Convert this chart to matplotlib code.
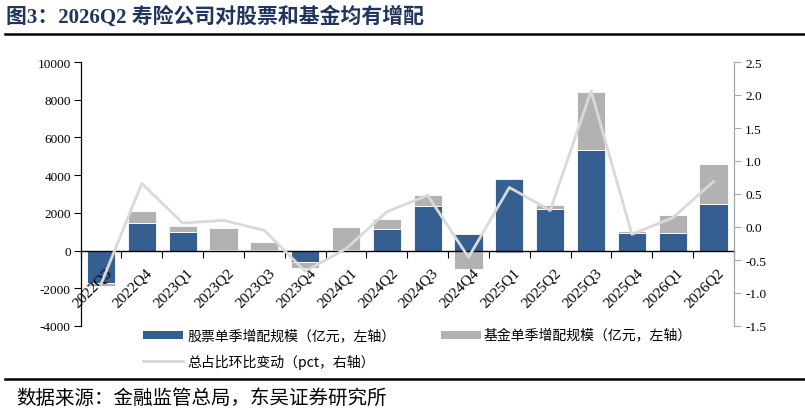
import matplotlib
matplotlib.use("Agg")
import matplotlib.pyplot as plt
import numpy as np
from matplotlib.lines import Line2D
from matplotlib.patches import Rectangle
from matplotlib.transforms import ScaledTranslation

quarters = ["2022Q3", "2022Q4", "2023Q1", "2023Q2", "2023Q3", "2023Q4", "2024Q1", "2024Q2",
            "2024Q3", "2024Q4", "2025Q1", "2025Q2", "2025Q3", "2025Q4", "2026Q1", "2026Q2"]
stock = [-1700, 1470, 990, 50, 50, -600, 30, 1150, 2390, 880, 3820, 2210, 5320, 920, 920, 2490]
fund = [-200, 650, 330, 1150, 410, -320, 1220, 550, 560, -970, -150, 230, 3080, 140, 940, 2090]
share_chg = [-0.87, 0.66, 0.06, 0.10, -0.05, -0.67, -0.33, 0.23, 0.48, -0.46, 0.60, 0.25,
             2.06, -0.11, 0.14, 0.69]

left_ticks = [-4000, -2000, 0, 2000, 4000, 6000, 8000, 10000]
right_ticks = [-1.5, -1.0, -0.5, 0.0, 0.5, 1.0, 1.5, 2.0, 2.5]

title = "图3：2026Q2 寿险公司对股票和基金均有增配"
source = "数据来源：金融监管总局，东吴证券研究所"
lab_stock = "股票单季增配规模（亿元，左轴）"
lab_fund = "基金单季增配规模（亿元，左轴）"
lab_line = "总占比环比变动（pct，右轴）"

BLUE = "#365F91"
GRAY = "#B2B2B2"
LGRAY = "#D9D9D9"
NAVY = "#1F3560"
CJK = ["Noto Sans CJK SC", "DejaVu Sans"]
SERIF = "Liberation Serif"

W, H = 805, 414
fig = plt.figure(figsize=(W / 100, H / 100), dpi=100)
ax = fig.add_axes([80.5 / W, 1 - 327 / H, (734 - 80.5) / W, (327 - 63) / H])

x = np.arange(len(quarters))
stock_a = np.array(stock, dtype=float)
fund_a = np.array(fund, dtype=float)
fund_bottom = np.where(np.sign(stock_a) == np.sign(fund_a), stock_a, 0.0)

bw = 0.69
ax.bar(x, stock_a, width=bw, color=BLUE, edgecolor="white", linewidth=0.6, zorder=1)
ax.bar(x, fund_a, width=bw, bottom=fund_bottom, color=GRAY, edgecolor="white", linewidth=0.6, zorder=1)

ax.set_xlim(-0.5, len(quarters) - 0.5)
ax.set_ylim(-4000, 10000)
ax.set_yticks(left_ticks)
ax.set_yticklabels([str(v) for v in left_ticks], fontfamily=SERIF, fontsize=9.5)
ax.tick_params(axis="y", direction="out", length=5, width=0.8, pad=2, colors="black")

ax.spines["top"].set_visible(False)
ax.spines["right"].set_visible(False)
ax.spines["bottom"].set_position(("data", 0))
ax.spines["bottom"].set_linewidth(1.0)
ax.spines["left"].set_linewidth(0.9)

ax.set_xticks(x)
ax.set_xticks(np.arange(-0.5, len(quarters), 1.0), minor=True)
ax.tick_params(axis="x", which="major", length=0, pad=3)
ax.tick_params(axis="x", which="minor", length=5, width=0.8, direction="out")
ax.set_xticklabels(quarters, rotation=45, ha="right", va="top", rotation_mode="anchor",
                   fontfamily=SERIF, fontsize=11)
shift = ScaledTranslation(4 / 100, -11 / 100, fig.dpi_scale_trans)
for lbl in ax.get_xticklabels():
    lbl.set_transform(lbl.get_transform() + shift)
ax.xaxis.set_zorder(3)

ax2 = ax.twinx()
ax2.plot(x, share_chg, color=LGRAY, linewidth=2, zorder=3)
ax2.set_ylim(-1.5, 2.5)
ax2.set_yticks(right_ticks)
ax2.set_yticklabels([f"{v:.1f}" for v in right_ticks], fontfamily=SERIF, fontsize=9.5)
ax2.tick_params(axis="y", direction="out", length=5, width=0.8, pad=3, colors="#A6A6A6",
                labelcolor="black")
for s in ["top", "left", "bottom"]:
    ax2.spines[s].set_visible(False)
ax2.spines["right"].set_color("#A6A6A6")
ax2.spines["right"].set_linewidth(0.9)

# title and rules
fig.text(6 / W, 1 - 17 / H, title, fontsize=15, fontweight="bold", color=NAVY,
         family=[SERIF, "Noto Sans CJK SC"], va="center", ha="left")
fig.add_artist(Line2D([5 / W, 1.0], [1 - 35 / H] * 2, color="black", linewidth=1.8))
fig.add_artist(Line2D([5 / W, 1.0], [1 - 380 / H] * 2, color="black", linewidth=1.8))
fig.text(16 / W, 1 - 398 / H, source, fontsize=14, family=CJK, va="center", ha="left")

# legend
def fx(px):
    return px / W

def fy(py):
    return 1 - py / H

fig.add_artist(Rectangle((fx(143), fy(340)), 40 / W, 8 / H, transform=fig.transFigure,
                         facecolor=BLUE, edgecolor="none"))
fig.text(fx(187), fy(336), lab_stock, fontsize=10, family=CJK, va="center", ha="left")
fig.add_artist(Rectangle((fx(441), fy(340)), 40 / W, 8 / H, transform=fig.transFigure,
                         facecolor=GRAY, edgecolor="none"))
fig.text(fx(484), fy(336), lab_fund, fontsize=10, family=CJK, va="center", ha="left")
fig.add_artist(Line2D([fx(143), fx(183)], [fy(362)] * 2, color=LGRAY, linewidth=2))
fig.text(fx(187), fy(362), lab_line, fontsize=10, family=CJK, va="center", ha="left")

fig.savefig("out.png", dpi=100, facecolor="white")
